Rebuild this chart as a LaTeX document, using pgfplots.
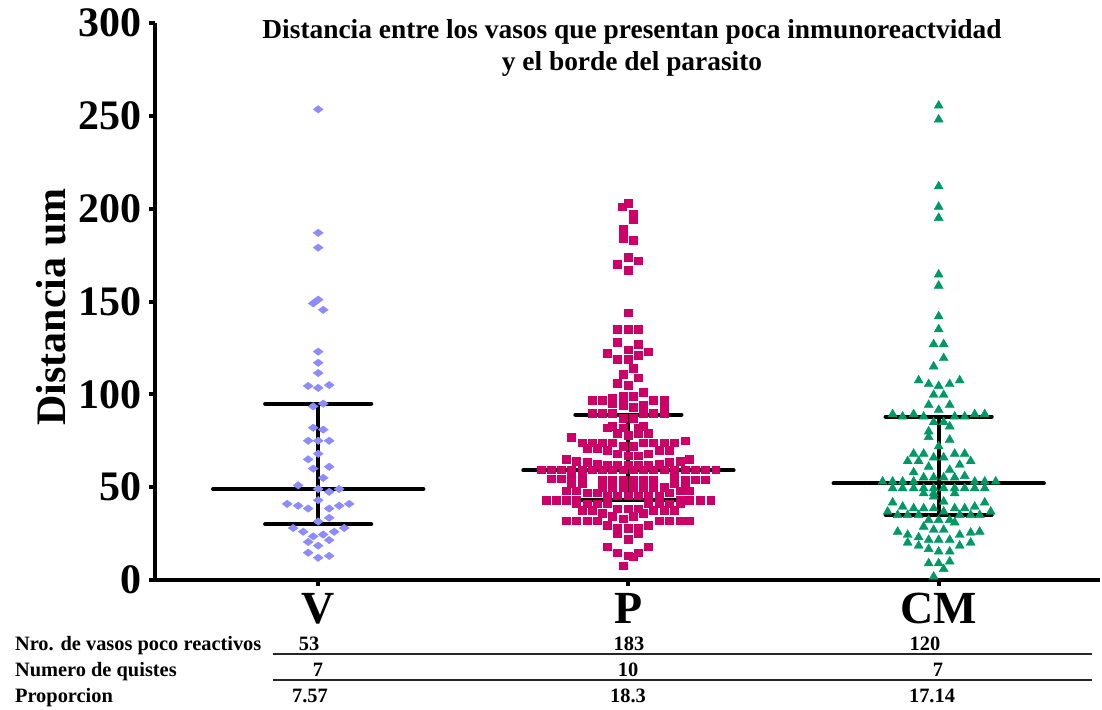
\documentclass[border=0pt]{standalone}
\usepackage{fontspec}
\setmainfont{Liberation Serif}
\usepackage{pgfplots}
\pgfplotsset{compat=1.18}
\usepackage{pgfplotstable}
\definecolor{cV}{RGB}{140,140,255}
\definecolor{cP}{RGB}{204,0,102}
\definecolor{cCM}{RGB}{0,153,102}

% dx = horizontal offset in px from the category centre (310 px per category), y = distance
\pgfplotstableread{
dx y
0 253.5
0 187
0 179
0 151
-5 149
5 145.5
0 123
0 117
0 111.5
-10 104.5
0 103.5
11 105
5 95
-5 93.5
-5 82
5 81
-10 75
0 75
11 75
0 68
-10 65
11 61
-5 60
5 55
-20 51
0 49
21 49
11 47.5
0 43
-31 41
31 41
-20 40
21 40
-10 38.5
11 38.5
11 33.5
0 31.5
-25 28
26 28
-15 26
16 26
5 24.5
-5 23.5
11 21.5
-10 20.5
0 18.5
-10 14.7
11 13
0 12
}\Vdata

\pgfplotstableread{
dx y
0 203
-6 201
5 197
5 194
-5 189
-5 184
5 183
0 174
10 172
-11 170
0 167
0 144
-11 135
0 135
10 135
-11 128
10 127
0 124
-21 122
20 123
10 121
-11 119
0 119
5 114
-5 111
10 109
-11 106
0 105
15 101
-5 99
5 99
-36 97
-26 97
-16 98
-16 95
25 97
36 97
-5 94
15 94
5 93
36 93
-36 90
-26 90
-16 90
15 90
25 90
36 90
-5 87
5 87
-16 83
15 83
-21 82
-5 82
10 82
-11 79
10 79
20 79
0 78
-57 77
57 75
-46 74
-36 74
-26 74
-16 74
15 74
25 74
36 74
46 74
-5 72
5 72
-41 71
-31 71
-21 70
31 70
41 70
-11 68
20 68
0 67
10 67
-62 65
61 65
-52 64
52 64
-41 63.5
41 63.5
-31 62.5
31 62.5
-21 62
-11 62
0 62
10 62
20 62
-87 59.5
-77 59.5
-67 59.5
-57 59.5
-46 59.5
-36 59.5
-26 59.5
-16 59.5
-5 59.5
5 59.5
15 59.5
25 59.5
36 59.5
46 59.5
57 59.5
67 59.5
77 59.5
87 59.5
-77 54.5
-67 54.5
-57 55.5
-46 55.5
-26 54
-16 54
-5 54
5 54
15 54
25 54
46 55
57 54
67 54
77 54
-57 52
-46 52
46 52
57 52
-26 50
-16 50
-5 50
5 50
15 50
25 50
36 50
-62 48
-52 48
52 48
61 48
-41 47
-31 47
41 47
-21 45.5
-11 45.5
0 45.5
10 45.5
20 45.5
31 45.5
-82 43
-72 43
-62 43
-52 43
52 43
61 43
72 43
82 43
-52 41
-41 41
-31 41
-21 41
20 41
31 41
41 41
52 41
-11 38.5
0 38.5
10 38.5
-46 37.5
-36 37.5
25 37.5
36 37.5
46 37.5
-26 36
15 36
-16 34.5
5 34.5
-5 33
-62 32
-52 32
-41 32
-31 32
31 32
41 32
52 32
61 32
-21 29.5
20 29.5
-11 28
0 28
10 28
-11 25
10 25
0 22
-21 18
20 18
-11 14.7
10 14.7
0 13
5 12.5
-5 7.7
}\Pdata

\pgfplotstableread{
dx y
0 255.5
0 248
0 212
0 201
0 195
0 164.5
0 158.5
0 142
0 135
-5 127
5 127
5 119.5
-5 115
-20 107.5
21 107.5
-10 105.5
11 105.5
0 104.5
-5 99.7
5 99.7
-10 94.3
11 94.3
0 91.6
-46 89.3
-25 89.3
36 89.3
46 89.3
-36 88
-15 88
16 88
26 88
-5 85
5 85
11 82.7
-10 80
-10 77
11 75.5
0 72
-25 68
-15 68
16 68
26 68
-5 66
5 66
-31 64
-20 64
32 64
21 62
-10 61
11 59.3
-25 58
26 56
-15 55.2
-5 55.2
5 55.2
16 55.2
-56 53
-46 53
-36 53
-25 53
36 53
46 53
57 53
-46 49.4
-36 49.4
-25 49.4
-15 49.4
-5 49.4
5 49.4
16 49.4
26 49.4
36 49.4
46 49.4
-15 46.7
-5 46.7
16 46.7
-5 45
5 42.2
-46 41.7
46 41.7
-36 39.5
36 39.5
-25 38.6
-15 38.6
-5 38.6
16 38.6
26 38.6
-51 36.8
5 36.8
52 36.8
-41 35
-31 35
-20 35
21 35
32 35
41 35
-10 32.3
0 32.3
11 32.3
16 31
-15 28.7
-5 27
5 27
-41 26
41 26
32 25.5
-31 24.3
21 24.3
-20 23
-10 21.6
0 21.6
11 21.6
-31 20.1
32 20.1
-20 18.5
21 18.5
-10 16.7
0 15.3
11 15.3
11 9.9
-10 9
0 9
5 5.9
-5 1.8
}\CMdata

\begin{document}
\begin{tikzpicture}
\path[use as bounding box] (-77.5pt,-64.5pt) rectangle (473.5pt,290pt);
\begin{axis}[
  at={(0pt,0pt)}, anchor=south west,
  scale only axis, width=472.5pt, height=278.5pt,
  xmin=-0.526, xmax=2.52, ymin=0, ymax=300,
  axis x line=bottom, axis y line=left,
  axis line style={line width=2pt, -},
  xtick={0,1,2}, xticklabels={V,P,CM},
  ytick={0,50,100,150,200,250,300},
  tick style={line width=2pt, black},
  tick align=outside, major tick length=3pt,
  xticklabel style={font=\fontsize{23}{23}\selectfont\bfseries},
  yticklabel style={font=\fontsize{21}{21}\selectfont\bfseries},
  /pgf/number format/assume math mode=true,
  clip=false,
]
\addplot[only marks, mark=diamond*, mark size=2.5pt,
  mark options={rotate=90, fill=cV, draw=cV, line width=0.2pt}]
  table[x expr=0+\thisrow{dx}/310, y=y] {\Vdata};
\addplot[only marks, mark=square*, mark size=1.9pt,
  mark options={fill=cP, draw=cP, line width=0.2pt}]
  table[x expr=1+\thisrow{dx}/310, y=y] {\Pdata};
\addplot[only marks, mark=triangle*, mark size=2.6pt,
  mark options={fill=cCM, draw=cCM, line width=0.2pt}]
  table[x expr=2+\thisrow{dx}/310, y=y] {\CMdata};
% median / spread lines
\addplot[black, line width=2pt, line cap=round] coordinates {(-0.339,49) (0.339,49)};
\addplot[black, line width=2pt, line cap=round] coordinates {(-0.171,95) (0.171,95)};
\addplot[black, line width=2pt, line cap=round] coordinates {(-0.171,30) (0.171,30)};
\addplot[black, line width=2pt] coordinates {(0,30) (0,95)};
\addplot[black, line width=2pt, line cap=round] coordinates {(0.661,59) (1.339,59)};
\addplot[black, line width=2pt, line cap=round] coordinates {(0.829,89) (1.171,89)};
\addplot[black, line width=2pt, line cap=round] coordinates {(0.829,43) (1.171,43)};
\addplot[black, line width=2pt] coordinates {(1,43) (1,89)};
\addplot[black, line width=2pt, line cap=round] coordinates {(1.661,52) (2.339,52)};
\addplot[black, line width=2pt, line cap=round] coordinates {(1.829,88) (2.171,88)};
\addplot[black, line width=2pt, line cap=round] coordinates {(1.829,35) (2.171,35)};
\addplot[black, line width=2pt] coordinates {(2,35) (2,88)};
\end{axis}
% y label
\node[rotate=90, font=\fontsize{21}{21}\selectfont\bfseries] at (-52pt,136.5pt) {Distancia um};
% title
\node[anchor=base, font=\fontsize{13.7}{16}\selectfont\bfseries] at (238.5pt,270.85pt) {Distancia entre los vasos que presentan poca inmunoreactvidad};
\node[anchor=base, font=\fontsize{13.7}{16}\selectfont\bfseries] at (238.5pt,254.65pt) {y el borde del parasito};
% table
\begin{scope}[every node/.style={font=\fontsize{10.2}{12}\selectfont\bfseries}]
\node[anchor=base west] at (-73.5pt,-35pt) {Nro. de vasos poco reactivos};
\node[anchor=base west] at (-73.5pt,-48pt) {Numero de quistes};
\node[anchor=base west] at (-73.5pt,-61pt) {Proporcion};
\node[anchor=base] at (77pt,-35pt) {53};
\node[anchor=base] at (237pt,-35pt) {183};
\node[anchor=base] at (385pt,-35pt) {120};
\node[anchor=base] at (81.5pt,-48pt) {7};
\node[anchor=base] at (236.5pt,-48pt) {10};
\node[anchor=base] at (391.5pt,-48pt) {7};
\node[anchor=base] at (77.5pt,-61pt) {7.57};
\node[anchor=base] at (236.5pt,-61pt) {18.3};
\node[anchor=base] at (388.5pt,-61pt) {17.14};
\end{scope}
\draw[line width=0.8pt, black!85] (59pt,-37pt) -- (468.5pt,-37pt);
\draw[line width=0.8pt, black!85] (59pt,-50pt) -- (468.5pt,-50pt);
\end{tikzpicture}
\end{document}
